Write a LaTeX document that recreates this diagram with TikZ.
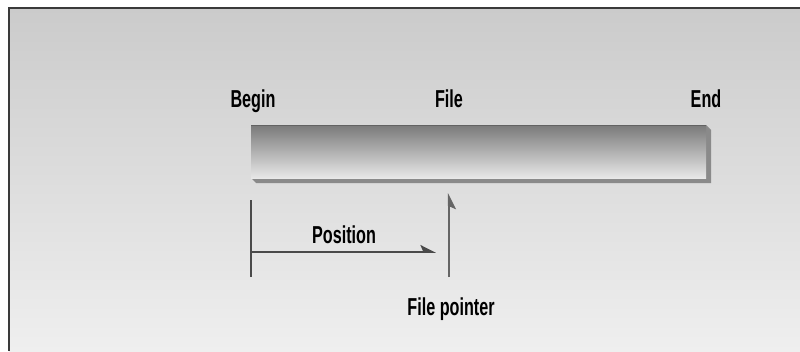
\documentclass[tikz,border=0pt]{standalone}
\usepackage{fontspec}
\setmainfont{Liberation Sans}[FakeStretch=0.66]
\usetikzlibrary{arrows.meta}
\definecolor{bgtop}{HTML}{CBCBCB}
\definecolor{bgbot}{HTML}{EFEFEF}
\definecolor{framec}{HTML}{3A3A3A}
\definecolor{bartop}{HTML}{7A7A7A}
\definecolor{barbot}{HTML}{E8E8E8}
\definecolor{extrude}{HTML}{8A8A8A}
\definecolor{linec}{HTML}{4A4A4A}
\tikzset{
  lbl/.style={font=\fontsize{24.5}{26}\selectfont\bfseries, text=black, inner sep=0pt, anchor=base},
  tick/.style={draw=linec, line width=1.6pt},
  ptr/.style={draw=linec!85!white, line width=2.2pt},
  tip/.style={-{Stealth[harpoon,length=14pt,width=14pt,inset=3pt]}},
}
\begin{document}
\begin{tikzpicture}[x=1pt,y=-1pt]
\useasboundingbox (0,0) rectangle (800,351);
\fill[white] (0,0) rectangle (800,351);
\shade[top color=bgtop, bottom color=bgbot] (9,8) rectangle (800,351);
\draw[framec, line width=1.6pt] (9,351) -- (9,8) -- (800,8);
% bar extrusion
\fill[extrude] (706,125) -- (711,130) -- (711,183) -- (256,183) -- (251,178) -- (706,178) -- cycle;
% bar face
\node (bar) [draw=none, inner sep=0pt, minimum width=455pt, minimum height=53pt,
  top color=bartop, bottom color=barbot, anchor=north west] at (251,125) {};
\draw[bartop!80!black, line width=0.8pt] (bar.north west) -- (bar.north east);
% labels
\node[lbl] (begin) at (253,107) {Begin};
\node[lbl] (file) at (449,107) {File};
\node[lbl] (end) at (706,107) {End};
\node[lbl] (pos) at (344,243) {Position};
\node[lbl] (fp) at (451,315) {File pointer};
% position marker
\coordinate (t1) at (251,200);
\coordinate (t2) at (251,277);
\coordinate (a1) at (251,252);
\coordinate (a2) at (436,252);
\coordinate (p1) at (449,277);
\coordinate (p2) at (449,193);
\draw[tick] (t1) -- (t2);
\draw[tick, tip] (a1) -- (a2);
\draw[ptr, -{Stealth[harpoon,swap,length=14pt,width=14pt,inset=3pt]}] (p1) -- (p2);
\end{tikzpicture}
\end{document}
